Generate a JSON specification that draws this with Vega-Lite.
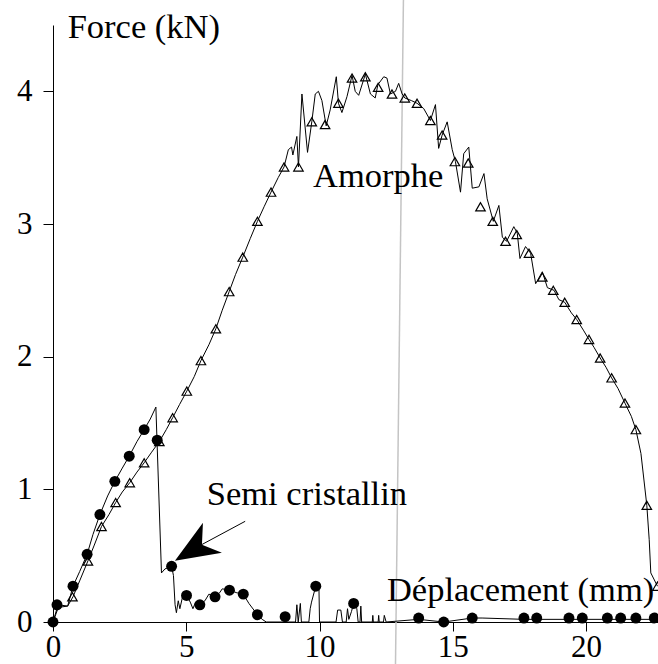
{
  "$schema": "https://vega.github.io/schema/vega-lite/v6.json",
  "autosize": {"type": "none"},
  "padding": {"left": 53, "top": 25, "right": 0, "bottom": 42},
  "width": 605,
  "height": 597,
  "background": "white",
  "config": {
    "view": {"stroke": null},
    "font": "Liberation Serif",
    "axis": {"grid": false, "title": null, "domainColor": "black", "tickColor": "black", "labelColor": "black", "labelFont": "Liberation Serif", "labelFontSize": 31, "labelFlush": false, "labelOverlap": false, "labelBound": false, "domainWidth": 1, "tickWidth": 1, "format": "d"}
  },
  "datasets": {
    "guide": [
      {"xa": 13.15, "xb": 12.85, "ya": 4.72, "yb": -0.33}
    ],
    "amorphe_line": [
      {"x": 0, "y": 0}, {"x": 0.2, "y": 0.11}, {"x": 0.55, "y": 0.12}, {"x": 0.75, "y": 0.19}, {"x": 1.0, "y": 0.31},
      {"x": 1.31, "y": 0.46}, {"x": 1.55, "y": 0.58}, {"x": 1.82, "y": 0.72}, {"x": 2.1, "y": 0.81}, {"x": 2.35, "y": 0.9},
      {"x": 2.6, "y": 0.98}, {"x": 2.88, "y": 1.05}, {"x": 3.15, "y": 1.13}, {"x": 3.42, "y": 1.2}, {"x": 3.7, "y": 1.28},
      {"x": 3.99, "y": 1.36}, {"x": 4.25, "y": 1.45}, {"x": 4.49, "y": 1.54}, {"x": 4.75, "y": 1.64}, {"x": 5.02, "y": 1.74},
      {"x": 5.3, "y": 1.85}, {"x": 5.55, "y": 1.97}, {"x": 5.85, "y": 2.09}, {"x": 6.11, "y": 2.21}, {"x": 6.35, "y": 2.35},
      {"x": 6.61, "y": 2.49}, {"x": 6.85, "y": 2.62}, {"x": 7.12, "y": 2.75}, {"x": 7.4, "y": 2.89}, {"x": 7.67, "y": 3.02},
      {"x": 7.92, "y": 3.13}, {"x": 8.18, "y": 3.24}, {"x": 8.45, "y": 3.35}, {"x": 8.67, "y": 3.43}, {"x": 8.83, "y": 3.56},
      {"x": 8.95, "y": 3.58}, {"x": 9.0, "y": 3.52}, {"x": 9.15, "y": 3.66}, {"x": 9.21, "y": 3.43}, {"x": 9.34, "y": 3.98},
      {"x": 9.55, "y": 3.54}, {"x": 9.71, "y": 3.77}, {"x": 9.84, "y": 3.98}, {"x": 9.96, "y": 4.0}, {"x": 10.09, "y": 3.93},
      {"x": 10.25, "y": 3.74}, {"x": 10.4, "y": 3.86}, {"x": 10.63, "y": 4.11}, {"x": 10.71, "y": 3.91}, {"x": 10.84, "y": 3.84},
      {"x": 11.03, "y": 3.96}, {"x": 11.22, "y": 4.12}, {"x": 11.34, "y": 4.0}, {"x": 11.47, "y": 3.97}, {"x": 11.72, "y": 4.13},
      {"x": 11.91, "y": 3.98}, {"x": 12.09, "y": 3.95}, {"x": 12.19, "y": 4.05}, {"x": 12.41, "y": 4.11}, {"x": 12.53, "y": 4.1},
      {"x": 12.66, "y": 3.98}, {"x": 12.85, "y": 4.0}, {"x": 12.97, "y": 4.06}, {"x": 13.1, "y": 3.98}, {"x": 13.2, "y": 3.95},
      {"x": 13.45, "y": 3.93}, {"x": 13.66, "y": 3.91}, {"x": 13.91, "y": 3.87}, {"x": 14.16, "y": 3.78}, {"x": 14.35, "y": 3.9},
      {"x": 14.47, "y": 3.57}, {"x": 14.6, "y": 3.67}, {"x": 14.79, "y": 3.77}, {"x": 14.98, "y": 3.56}, {"x": 15.1, "y": 3.47},
      {"x": 15.29, "y": 3.24}, {"x": 15.41, "y": 3.53}, {"x": 15.6, "y": 3.58}, {"x": 15.73, "y": 3.27}, {"x": 15.98, "y": 3.28},
      {"x": 16.17, "y": 3.38}, {"x": 16.29, "y": 3.19}, {"x": 16.52, "y": 3.02}, {"x": 16.73, "y": 3.14}, {"x": 16.86, "y": 2.9},
      {"x": 17.02, "y": 2.87}, {"x": 17.29, "y": 2.98}, {"x": 17.42, "y": 2.93}, {"x": 17.52, "y": 2.74}, {"x": 17.73, "y": 2.83},
      {"x": 17.92, "y": 2.78}, {"x": 18.11, "y": 2.55}, {"x": 18.36, "y": 2.64}, {"x": 18.55, "y": 2.52}, {"x": 18.8, "y": 2.5},
      {"x": 18.98, "y": 2.43}, {"x": 19.2, "y": 2.41}, {"x": 19.45, "y": 2.33}, {"x": 19.65, "y": 2.28}, {"x": 19.9, "y": 2.2},
      {"x": 20.11, "y": 2.13}, {"x": 20.3, "y": 2.07}, {"x": 20.53, "y": 1.99}, {"x": 20.75, "y": 1.92}, {"x": 20.96, "y": 1.84},
      {"x": 21.2, "y": 1.76}, {"x": 21.46, "y": 1.65}, {"x": 21.7, "y": 1.55}, {"x": 21.87, "y": 1.45}, {"x": 22.06, "y": 1.27},
      {"x": 22.28, "y": 0.88}, {"x": 22.37, "y": 0.62}, {"x": 22.43, "y": 0.37}, {"x": 22.68, "y": 0.27}
    ],
    "amorphe_markers": [
      {"x": 0.73, "y": 0.19}, {"x": 1.31, "y": 0.46}, {"x": 1.82, "y": 0.72}, {"x": 2.35, "y": 0.9}, {"x": 2.88, "y": 1.05},
      {"x": 3.42, "y": 1.2}, {"x": 3.99, "y": 1.36}, {"x": 4.49, "y": 1.54}, {"x": 5.02, "y": 1.74}, {"x": 5.55, "y": 1.97},
      {"x": 6.11, "y": 2.21}, {"x": 6.61, "y": 2.49}, {"x": 7.12, "y": 2.75}, {"x": 7.67, "y": 3.02}, {"x": 8.18, "y": 3.24},
      {"x": 8.67, "y": 3.43}, {"x": 9.21, "y": 3.43}, {"x": 9.71, "y": 3.77}, {"x": 10.21, "y": 3.75}, {"x": 10.71, "y": 3.91},
      {"x": 11.22, "y": 4.1}, {"x": 11.72, "y": 4.11}, {"x": 12.2, "y": 4.03}, {"x": 12.72, "y": 3.98}, {"x": 13.2, "y": 3.95},
      {"x": 13.66, "y": 3.91}, {"x": 14.16, "y": 3.78}, {"x": 14.6, "y": 3.67}, {"x": 15.08, "y": 3.47}, {"x": 15.58, "y": 3.46},
      {"x": 16.04, "y": 3.13}, {"x": 16.5, "y": 3.02}, {"x": 16.98, "y": 2.87}, {"x": 17.4, "y": 2.92}, {"x": 17.86, "y": 2.78},
      {"x": 18.36, "y": 2.6}, {"x": 18.77, "y": 2.5}, {"x": 19.2, "y": 2.41}, {"x": 19.65, "y": 2.28}, {"x": 20.11, "y": 2.13},
      {"x": 20.53, "y": 1.99}, {"x": 20.96, "y": 1.84}, {"x": 21.46, "y": 1.65}, {"x": 21.87, "y": 1.45}, {"x": 22.28, "y": 0.88},
      {"x": 22.68, "y": 0.27}
    ],
    "semi_line": [
      {"x": 0, "y": 0}, {"x": 0.19, "y": 0.13}, {"x": 0.55, "y": 0.12}, {"x": 0.75, "y": 0.27}, {"x": 1.0, "y": 0.38},
      {"x": 1.28, "y": 0.51}, {"x": 1.5, "y": 0.66}, {"x": 1.76, "y": 0.81}, {"x": 2.05, "y": 0.95}, {"x": 2.32, "y": 1.06},
      {"x": 2.6, "y": 1.16}, {"x": 2.86, "y": 1.25}, {"x": 3.15, "y": 1.36}, {"x": 3.42, "y": 1.45}, {"x": 3.65, "y": 1.53},
      {"x": 3.86, "y": 1.62}, {"x": 4.07, "y": 0.37}, {"x": 4.2, "y": 0.4}, {"x": 4.45, "y": 0.42}, {"x": 4.52, "y": 0.35},
      {"x": 4.58, "y": 0.13}, {"x": 4.63, "y": 0.07}, {"x": 4.7, "y": 0.16}, {"x": 4.76, "y": 0.1}, {"x": 4.85, "y": 0.18},
      {"x": 5.01, "y": 0.2}, {"x": 5.15, "y": 0.15}, {"x": 5.25, "y": 0.1}, {"x": 5.35, "y": 0.15}, {"x": 5.51, "y": 0.13},
      {"x": 5.7, "y": 0.16}, {"x": 5.85, "y": 0.21}, {"x": 6.08, "y": 0.19}, {"x": 6.25, "y": 0.22}, {"x": 6.35, "y": 0.25},
      {"x": 6.62, "y": 0.24}, {"x": 6.9, "y": 0.22}, {"x": 7.14, "y": 0.21}, {"x": 7.35, "y": 0.14}, {"x": 7.67, "y": 0.055},
      {"x": 7.85, "y": 0.02}, {"x": 8.0, "y": 0.0}, {"x": 9.1, "y": 0.0}, {"x": 9.15, "y": 0.13}, {"x": 9.2, "y": 0.0},
      {"x": 9.28, "y": 0.14}, {"x": 9.32, "y": 0.0}, {"x": 9.6, "y": 0.0}, {"x": 9.65, "y": 0.1}, {"x": 9.7, "y": 0.15},
      {"x": 9.86, "y": 0.27}, {"x": 9.98, "y": 0.24}, {"x": 10.0, "y": 0.0}, {"x": 10.62, "y": 0.0}, {"x": 10.68, "y": 0.09},
      {"x": 10.8, "y": 0.09}, {"x": 10.86, "y": 0.0}, {"x": 11.0, "y": 0.0}, {"x": 11.05, "y": 0.1}, {"x": 11.1, "y": 0.02},
      {"x": 11.2, "y": 0.08}, {"x": 11.28, "y": 0.14}, {"x": 11.4, "y": 0.1}, {"x": 11.45, "y": 0.0}, {"x": 11.52, "y": 0.0},
      {"x": 11.55, "y": 0.12}, {"x": 11.58, "y": 0.0}, {"x": 11.98, "y": 0.0}, {"x": 12.0, "y": 0.05}, {"x": 12.02, "y": 0.0},
      {"x": 12.2, "y": 0.0}, {"x": 12.22, "y": 0.05}, {"x": 12.24, "y": 0.0}, {"x": 12.4, "y": 0.0}, {"x": 12.43, "y": 0.05},
      {"x": 12.5, "y": 0.0}, {"x": 13.72, "y": 0.02}, {"x": 14.66, "y": 0.0}, {"x": 15.73, "y": 0.03}, {"x": 16.1, "y": 0.03},
      {"x": 17.67, "y": 0.02}, {"x": 22.7, "y": 0.02}
    ],
    "semi_markers": [
      {"x": 0, "y": 0}, {"x": 0.15, "y": 0.13}, {"x": 0.75, "y": 0.27}, {"x": 1.28, "y": 0.51}, {"x": 1.76, "y": 0.81},
      {"x": 2.32, "y": 1.06}, {"x": 2.86, "y": 1.25}, {"x": 3.42, "y": 1.45}, {"x": 3.91, "y": 1.37}, {"x": 4.45, "y": 0.42},
      {"x": 5.01, "y": 0.2}, {"x": 5.51, "y": 0.13}, {"x": 6.08, "y": 0.19}, {"x": 6.62, "y": 0.24}, {"x": 7.14, "y": 0.21},
      {"x": 7.67, "y": 0.055}, {"x": 8.71, "y": 0.04}, {"x": 9.86, "y": 0.27}, {"x": 11.28, "y": 0.14}, {"x": 13.72, "y": 0.03},
      {"x": 14.66, "y": 0.0}, {"x": 15.73, "y": 0.03}, {"x": 17.67, "y": 0.03}, {"x": 18.15, "y": 0.03}, {"x": 19.36, "y": 0.03},
      {"x": 19.86, "y": 0.03}, {"x": 20.8, "y": 0.03}, {"x": 21.3, "y": 0.03}, {"x": 21.87, "y": 0.03}, {"x": 22.56, "y": 0.03}
    ],
    "labels": [
      {"x": 0.55, "y": 4.4, "text": "Force (kN)"},
      {"x": 9.76, "y": 3.28, "text": "Amorphe"},
      {"x": 5.77, "y": 0.88, "text": "Semi cristallin"},
      {"x": 12.53, "y": 0.155, "text": "Déplacement (mm)"}
    ],
    "arrow_shaft": [
      {"x": 5.55, "y": 0.58}, {"x": 7.21, "y": 0.759}
    ],
    "arrow_tip": [
      {"x": 4.575, "y": 0.462}
    ]
  },
  "encoding": {
    "x": {"field": "x", "type": "quantitative", "scale": {"domain": [0, 22.7], "nice": false, "zero": false}, "axis": {"values": [0, 5, 10, 15, 20], "tickSize": 9, "labelPadding": 1}},
    "y": {"field": "y", "type": "quantitative", "scale": {"domain": [0, 4.5], "nice": false}, "axis": {"values": [0, 1, 2, 3, 4], "tickSize": 10, "labelPadding": 11}}
  },
  "layer": [
    {
      "data": {"name": "guide"},
      "mark": {"type": "rule", "color": "#c4c4c4", "strokeWidth": 1.5, "clip": false},
      "encoding": {
        "x": {"field": "xa", "type": "quantitative"},
        "y": {"field": "ya", "type": "quantitative"},
        "x2": {"field": "xb"},
        "y2": {"field": "yb"}
      }
    },
    {
      "data": {"name": "amorphe_line"},
      "mark": {"type": "line", "color": "black", "strokeWidth": 1}
    },
    {
      "data": {"name": "semi_line"},
      "mark": {"type": "line", "color": "black", "strokeWidth": 1}
    },
    {
      "data": {"name": "amorphe_markers"},
      "mark": {"type": "point", "shape": "triangle-up", "filled": false, "stroke": "black", "strokeWidth": 1.2, "size": 90, "opacity": 1}
    },
    {
      "data": {"name": "semi_markers"},
      "mark": {"type": "point", "shape": "circle", "filled": true, "color": "black", "size": 120, "opacity": 1}
    },
    {
      "data": {"name": "labels"},
      "mark": {"type": "text", "align": "left", "baseline": "alphabetic", "font": "Liberation Serif", "fontSize": 34.5, "color": "black"},
      "encoding": {"text": {"field": "text"}}
    },
    {
      "data": {"name": "arrow_shaft"},
      "mark": {"type": "line", "color": "black", "strokeWidth": 1}
    },
    {
      "data": {"name": "arrow_tip"},
      "mark": {"type": "point", "shape": "M0,0L28,-38L27,-16L47,-8Z", "filled": true, "color": "black", "size": 4, "opacity": 1}
    }
  ]
}
